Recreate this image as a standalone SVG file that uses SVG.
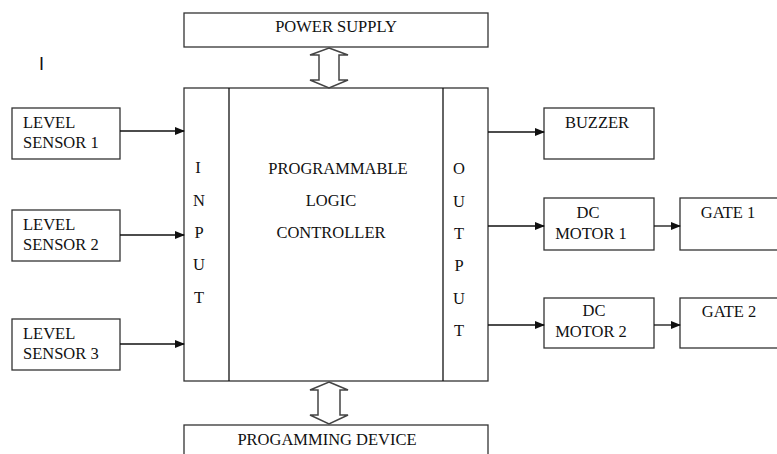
<svg xmlns="http://www.w3.org/2000/svg" width="777" height="454" viewBox="0 0 777 454">
<defs>
<style>
.box{fill:#fff;stroke:#333;stroke-width:1.3}
text.t{font-family:'Liberation Serif',Tinos,'Times New Roman','DejaVu Serif',serif;font-size:16.5px;fill:#111}
.m{text-anchor:middle}
.c{stroke:#111;stroke-width:1.3;fill:none}
.dbl{fill:#fff;stroke:#444;stroke-width:1.5}
</style>
<marker id="ah" markerWidth="10" markerHeight="8" refX="9" refY="4" orient="auto" markerUnits="userSpaceOnUse">
<path d="M0,0 L10,4 L0,8 Z" fill="#111"/>
</marker>
</defs>
<rect width="777" height="454" fill="#fff"/>
<text x="39" y="70" font-family="Liberation Sans, Arial, sans-serif" font-size="18" fill="#111">I</text>

<g id="power-supply">
<rect class="box" x="184" y="13" width="304" height="34"/>
<text class="t m" x="336" y="32">POWER SUPPLY</text>
</g>

<g id="plc">
<rect class="box" x="184" y="88" width="304" height="293"/>
<line class="c" x1="229" y1="88" x2="229" y2="381"/>
<line class="c" x1="443" y1="88" x2="443" y2="381"/>
<text class="t m" x="198" y="173">I</text>
<text class="t m" x="199" y="206">N</text>
<text class="t m" x="199" y="238">P</text>
<text class="t m" x="199" y="270">U</text>
<text class="t m" x="199" y="303">T</text>
<text class="t m" x="338" y="174">PROGRAMMABLE</text>
<text class="t m" x="331" y="206">LOGIC</text>
<text class="t m" x="331" y="238">CONTROLLER</text>
<text class="t m" x="459" y="174">O</text>
<text class="t m" x="459" y="207">U</text>
<text class="t m" x="459" y="239">T</text>
<text class="t m" x="459" y="271">P</text>
<text class="t m" x="459" y="304">U</text>
<text class="t m" x="459" y="336">T</text>
</g>

<g id="programming-device">
<rect class="box" x="184" y="425" width="304" height="40"/>
<text class="t m" x="327" y="445">PROGAMMING DEVICE</text>
</g>

<g id="level-sensor-1">
<rect class="box" x="12" y="108" width="108" height="51"/>
<text class="t" x="23" y="128">LEVEL</text>
<text class="t" x="23" y="148">SENSOR 1</text>
</g>
<g id="level-sensor-2">
<rect class="box" x="12" y="210" width="108" height="51"/>
<text class="t" x="23" y="230">LEVEL</text>
<text class="t" x="23" y="250">SENSOR 2</text>
</g>
<g id="level-sensor-3">
<rect class="box" x="12" y="319" width="108" height="51"/>
<text class="t" x="23" y="339">LEVEL</text>
<text class="t" x="23" y="359">SENSOR 3</text>
</g>

<g id="buzzer">
<rect class="box" x="544" y="108" width="110" height="51"/>
<text class="t m" x="597" y="128">BUZZER</text>
</g>
<g id="dc-motor-1">
<rect class="box" x="544" y="198" width="110" height="52"/>
<text class="t m" x="588" y="218">DC</text>
<text class="t m" x="591" y="239">MOTOR 1</text>
</g>
<g id="dc-motor-2">
<rect class="box" x="544" y="298" width="110" height="50"/>
<text class="t m" x="594" y="316">DC</text>
<text class="t m" x="591" y="337">MOTOR 2</text>
</g>
<g id="gate-1">
<rect class="box" x="680" y="198" width="110" height="52"/>
<text class="t m" x="728" y="218">GATE 1</text>
</g>
<g id="gate-2">
<rect class="box" x="680" y="298" width="110" height="50"/>
<text class="t m" x="729" y="317">GATE 2</text>
</g>

<g id="connectors">
<line class="c" x1="120" y1="131" x2="184" y2="131" marker-end="url(#ah)"/>
<line class="c" x1="120" y1="235" x2="184" y2="235" marker-end="url(#ah)"/>
<line class="c" x1="120" y1="344" x2="184" y2="344" marker-end="url(#ah)"/>
<line class="c" x1="488" y1="132" x2="544" y2="132" marker-end="url(#ah)"/>
<line class="c" x1="488" y1="226" x2="544" y2="226" marker-end="url(#ah)"/>
<line class="c" x1="488" y1="325" x2="544" y2="325" marker-end="url(#ah)"/>
<line class="c" x1="654" y1="226" x2="680" y2="226" marker-end="url(#ah)"/>
<line class="c" x1="654" y1="325" x2="680" y2="325" marker-end="url(#ah)"/>
<path class="dbl" d="M329,48 L348,55 L339,55 L339,80 L348,80 L329,88 L310,80 L319,80 L319,55 L310,55 Z"/>
<path class="dbl" d="M329,382 L348,390 L340,390 L340,415 L348,415 L329,424 L310,415 L318,415 L318,390 L310,390 Z"/>
</g>
</svg>
